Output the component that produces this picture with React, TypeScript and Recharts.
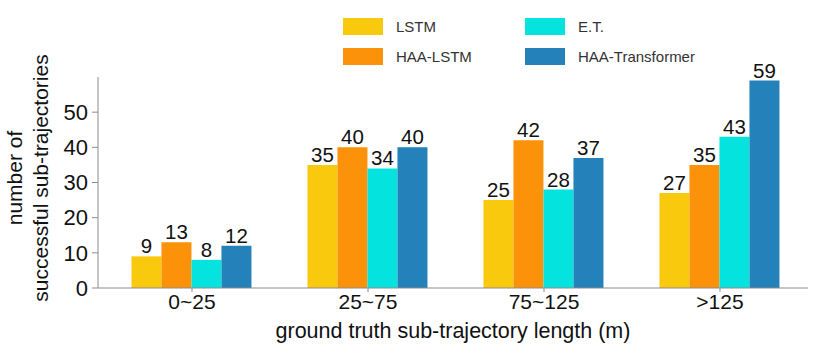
import React from "react";
import { BarChart, Bar, XAxis, YAxis, LabelList, Label } from "recharts";

const categories = ["0~25", "25~75", "75~125", ">125"];
const lstm = [9, 35, 25, 27];
const haaLstm = [13, 40, 42, 35];
const et = [8, 34, 28, 43];
const haaTransformer = [12, 40, 37, 59];
const yTicks = [0, 10, 20, 30, 40, 50];

const SERIES = [
  { key: "lstm", label: "LSTM", color: "#f9c90d" },
  { key: "haaLstm", label: "HAA-LSTM", color: "#fb9209" },
  { key: "et", label: "E.T.", color: "#05e3df" },
  { key: "haaTransformer", label: "HAA-Transformer", color: "#2581ba" },
] as const;

const data = categories.map((name, i) => ({
  name,
  lstm: lstm[i],
  haaLstm: haaLstm[i],
  et: et[i],
  haaTransformer: haaTransformer[i],
}));

const FONT = "'Liberation Sans', Arial, sans-serif";
const AXIS_COLOR = "#8c8c8c";

const YTitle = () => {
  const cy = 178;
  return (
    <g fontFamily={FONT} fontSize={21} fill="#111">
      <text x={14} y={cy} transform={`rotate(-90 14 ${cy})`} textAnchor="middle" dominantBaseline="central">
        number of
      </text>
      <text x={40} y={cy} transform={`rotate(-90 40 ${cy})`} textAnchor="middle" dominantBaseline="central">
        successful sub-trajectories
      </text>
    </g>
  );
};

const legendPos = [
  { left: 343, top: 18 },
  { left: 343, top: 48 },
  { left: 525, top: 18 },
  { left: 525, top: 48 },
];

const App: React.FC = () => {
  return (
    <div style={{ position: "absolute", left: 0, top: 0, width: 830, height: 360, background: "#fff", fontFamily: FONT }}>
      <BarChart
        width={830}
        height={360}
        data={data}
        margin={{ top: 77, right: 22, bottom: 0, left: 0 }}
        barCategoryGap="15.6%"
        barGap={0}
      >
        <XAxis
          dataKey="name"
          padding={{ left: 6, right: 0 }}
          stroke={AXIS_COLOR}
          tickSize={4}
          tick={{ fill: "#111", fontSize: 21, fontFamily: FONT }}
          tickMargin={2}
          height={72}
        >
          <Label
            value="ground truth sub-trajectory length (m)"
            position="insideBottom"
            offset={22}
            style={{ fill: "#111", fontSize: 21.5, fontFamily: FONT }}
          />
        </XAxis>
        <YAxis
          width={98}
          domain={[0, 60]}
          ticks={yTicks}
          interval={0}
          stroke={AXIS_COLOR}
          tickSize={6}
          tickMargin={4}
          tick={{ fill: "#111", fontSize: 22, fontFamily: FONT }}
        >
          <Label content={YTitle} />
        </YAxis>
        {SERIES.map(({ key, color }) => (
          <Bar key={key} dataKey={key} fill={color} isAnimationActive={false}>
            <LabelList
              dataKey={key}
              position="top"
              offset={3}
              style={{ fill: "#111", fontSize: 20.5, fontFamily: FONT }}
            />
          </Bar>
        ))}
      </BarChart>

      {/* Legend */}
      {SERIES.map(({ key, label, color }, i) => (
        <div
          key={key}
          style={{
            position: "absolute",
            left: legendPos[i].left,
            top: legendPos[i].top,
            display: "flex",
            alignItems: "center",
            gap: 13,
            fontSize: 15,
            color: "#333",
          }}
        >
          <span style={{ width: 40, height: 17, backgroundColor: color, flexShrink: 0 }} />
          {label}
        </div>
      ))}
    </div>
  );
};

export default App;
